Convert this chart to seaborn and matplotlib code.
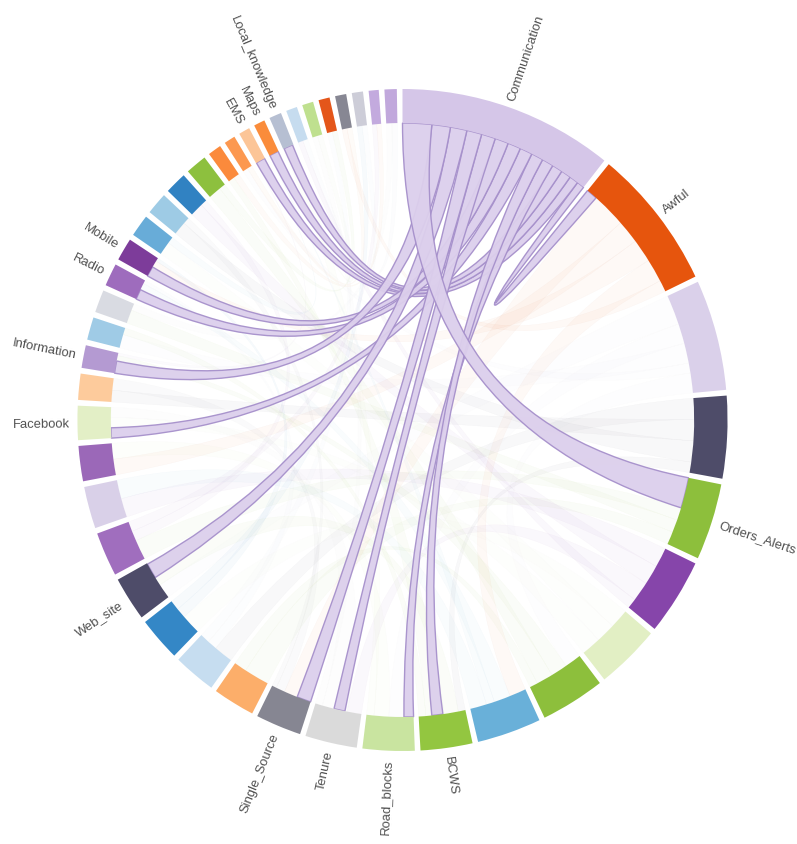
import numpy as np
import matplotlib
matplotlib.use("Agg")
import matplotlib.pyplot as plt
from matplotlib.path import Path
from matplotlib.patches import PathPatch, Wedge
import seaborn as sns

# ---------------------------------------------------------------
# Groups, clockwise from 12 o'clock
# ---------------------------------------------------------------
group_ids = ["Communication", "Awful", "c03", "c04", "Orders_Alerts", "c06", "c07",
             "c08", "c09", "BCWS", "Road_blocks", "Tenure", "Single_Source", "c14",
             "c15", "c16", "Web_site", "c18", "c19", "c20", "Facebook", "c22",
             "Information", "c24", "c25", "Radio", "Mobile", "c28", "c29", "c30",
             "c31", "c32", "c33", "EMS", "Maps", "Local_knowledge", "c37", "c38",
             "c39", "c40", "c41", "c42", "c43"]

group_totals = [38.5, 25.0, 19.5, 14.5, 13.5, 13.5, 11.5, 11.5, 11.5, 9.3, 9.3, 9.3,
                8.2, 7.5, 7.6, 7.8, 7.8, 7.8, 7.4, 6.2, 6.0, 4.6, 4.0, 4.0, 4.0, 4.0,
                4.0, 3.9, 3.9, 3.9, 3.8, 2.4, 2.0, 2.0, 2.0, 2.2, 2.0, 2.0, 2.0, 2.0,
                2.0, 1.8, 2.2]

group_colors = ["#d5c6e8", "#e6550d", "#dad0ea", "#4e4c69", "#8dbf3c", "#8645aa",
                "#e2efc4", "#8dbf3c", "#69b0d9", "#93c640", "#c9e4a0", "#dadada",
                "#868692", "#fcae6a", "#c6ddf0", "#3487c6", "#4e4c69", "#a06ebe",
                "#d9d0e8", "#9b68b8", "#e3efc6", "#fdcb9c", "#b49ad2", "#9fcbe6",
                "#d9dbe2", "#9e6cbd", "#7d3c9a", "#68acd8", "#9ecbe5", "#3182c2",
                "#8dc03e", "#fb8a3c", "#fc9850", "#fcc597", "#fa8c3b", "#b6bfd2",
                "#c6dcef", "#bfe08f", "#e4561a", "#878793", "#cdcdd8", "#c3aade",
                "#c1a8dc"]

# ---------------------------------------------------------------
# Flows of the highlighted group (Communication)
# ---------------------------------------------------------------
focus = "Communication"
comm_targets = ["Orders_Alerts", "Information", "Web_site", "Single_Source", "Tenure",
                "Mobile", "Radio", "Facebook", "BCWS", "Road_blocks",
                "Local_knowledge", "Maps", "EMS", "Awful"]
comm_out = [5.8, 3.7, 3.3, 3.0, 2.8, 2.7, 2.6, 2.5, 2.4, 2.3, 2.1, 2.0, 1.8, 1.5]
comm_in = [6.0, 2.4, 3.0, 2.8, 2.2, 2.0, 2.0, 2.0, 2.2, 1.9, 1.8, 1.8, 1.8, 2.2]
# larger flows of the partner group that are laid out before its Communication ribbon
partner_flow_before = [0.0, 0.0, 4.6, 0.0, 3.3, 0.0, 0.0, 0.0, 4.5, 0.0, 0.2, 0.1, 0.1, 0.0]

# ---------------------------------------------------------------
# Remaining flows between the other groups (drawn faded)
# ---------------------------------------------------------------
other_links = [
    ("Awful", "Single_Source", 3), ("Awful", "c20", 2), ("Awful", "Mobile", 2),
    ("Awful", "c09", 2), ("Awful", "c40", 1),
    ("c03", "Web_site", 3), ("c03", "Road_blocks", 2), ("c03", "c24", 2),
    ("c03", "c33", 1), ("c03", "c08", 2),
    ("c04", "c15", 2), ("c04", "c22", 2), ("c04", "c29", 2), ("c04", "BCWS", 1),
    ("Orders_Alerts", "c18", 2), ("Orders_Alerts", "c25", 2), ("Orders_Alerts", "c14", 2),
    ("c06", "c19", 2), ("c06", "c30", 2), ("c06", "Tenure", 2), ("c06", "c37", 1),
    ("c07", "c16", 2), ("c07", "c28", 2), ("c07", "Facebook", 2),
    ("c08", "Information", 2), ("c08", "c31", 2), ("c08", "c14", 1),
    ("c09", "Radio", 2), ("c09", "Maps", 1), ("c09", "c19", 2),
    ("BCWS", "Web_site", 2), ("BCWS", "c32", 1), ("BCWS", "c24", 1),
    ("Road_blocks", "c20", 2), ("Road_blocks", "Local_knowledge", 1),
    ("Tenure", "Facebook", 2), ("Tenure", "c38", 1),
    ("Single_Source", "c22", 2), ("Single_Source", "c29", 1),
    ("c15", "Radio", 1), ("c15", "c39", 1), ("c16", "Mobile", 1), ("c16", "c41", 1),
    ("c18", "c30", 1), ("c18", "c42", 1), ("Information", "EMS", 1),
    ("c25", "c43", 1), ("c28", "EMS", 1), ("c31", "c39", 1), ("c32", "c42", 1),
    ("c33", "c40", 1), ("Local_knowledge", "c43", 1), ("c37", "c41", 1),
    ("c38", "Maps", 1),
]

# ---------------------------------------------------------------
# Chord layout
# ---------------------------------------------------------------
sns.set_theme(style="white")
plt.rcParams["font.family"] = ["Liberation Sans", "DejaVu Sans"]
palette = sns.color_palette(group_colors)

n = len(group_ids)
idx = {g: i for i, g in enumerate(group_ids)}
pad = np.radians(1.0)
k = (2 * np.pi - n * pad) / sum(group_totals)

starts, ends = [], []
a = 0.0
for t in group_totals:
    starts.append(a)
    a += t * k
    ends.append(a)
    a += pad

R_OUT, R_IN = 331.0, 297.0
SX = 0.982  # horizontal stretch of the drawing

fig = plt.figure(figsize=(7.97, 8.45), dpi=100)
ax = fig.add_axes([0, 0, 1, 1])
ax.set_xlim(-402.5 / SX, (797 - 402.5) / SX)
ax.set_ylim(-424, 421)
ax.axis("off")


def pt(ang, r):
    return (r * np.sin(ang), r * np.cos(ang))


def ribbon(s0, s1, t0, t1, r=R_IN):
    verts, codes = [], []
    arc = np.linspace(s0, s1, max(3, int(abs(s1 - s0) / 0.005) + 2))
    verts += [pt(x, r) for x in arc]
    codes += [Path.MOVETO] + [Path.LINETO] * (len(arc) - 1)
    verts += [(0, 0), pt(t0, r)]
    codes += [Path.CURVE3, Path.CURVE3]
    arc = np.linspace(t0, t1, max(3, int(abs(t1 - t0) / 0.005) + 2))
    verts += [pt(x, r) for x in arc[1:]]
    codes += [Path.LINETO] * (len(arc) - 1)
    verts += [(0, 0), pt(s0, r), pt(s0, r)]
    codes += [Path.CURVE3, Path.CURVE3, Path.CLOSEPOLY]
    return Path(verts, codes)


# Communication ribbon placement inside each partner group
focus_slot = {}
order = np.argsort(comm_out)[::-1]
cur = starts[idx[focus]]
comm_src = {}
for j in order:
    tgt = comm_targets[j]
    comm_src[tgt] = (cur, cur + comm_out[j] * k)
    cur += comm_out[j] * k
    g = idx[tgt]
    focus_slot[g] = (partner_flow_before[j], comm_in[j])


def free_to_angle(g, pos):
    if g in focus_slot:
        lead, width = focus_slot[g]
        if pos > lead:
            pos = pos + width
    return starts[g] + pos * k


# faded ribbons between the remaining groups
weights = {g: 0.0 for g in range(n)}
for a_id, b_id, w in other_links:
    weights[idx[a_id]] += w
    weights[idx[b_id]] += w
free_len = {g: group_totals[g] - (focus_slot[g][1] if g in focus_slot else 0.0)
            for g in range(n)}
cursor = {g: 0.0 for g in range(n)}


def take(g, w):
    share = w / weights[g] * free_len[g]
    p0 = cursor[g]
    cursor[g] += share
    return free_to_angle(g, p0 + 1e-6), free_to_angle(g, p0 + share)


for a_id, b_id, w in other_links:
    ga, gb = idx[a_id], idx[b_id]
    s0, s1 = take(ga, w)
    t0, t1 = take(gb, w)
    ax.add_patch(PathPatch(ribbon(s0, s1, t0, t1), facecolor=palette[ga],
                           edgecolor=palette[ga], lw=0.3, alpha=0.035, zorder=1))

# highlighted Communication ribbons
for j in order[::-1]:
    tgt = comm_targets[j]
    g = idx[tgt]
    s0, s1 = comm_src[tgt]
    lead, width = focus_slot[g]
    t0 = starts[g] + lead * k
    t1 = t0 + width * k
    ax.add_patch(PathPatch(ribbon(s0, s1, t0, t1), facecolor="#dccfec",
                           edgecolor="#a690cb", lw=1.0, alpha=0.95, zorder=3))

# group arcs
for g in range(n):
    ax.add_patch(Wedge((0, 0), R_OUT, 90 - np.degrees(ends[g]), 90 - np.degrees(starts[g]),
                       width=R_OUT - R_IN, facecolor=palette[g], edgecolor="none", zorder=4))

# labels for Communication and its partners
labelled = [focus] + comm_targets
for name in labelled:
    g = idx[name]
    mid = (starts[g] + ends[g]) / 2
    x, y = pt(mid, R_OUT + 8)
    rot = np.degrees(np.arctan2(np.cos(mid), np.sin(mid) * SX))
    if np.degrees(mid) < 180:
        ax.text(x, y, name, rotation=rot, rotation_mode="anchor", ha="left",
                va="center", fontsize=9.4, color="#505050", zorder=5)
    else:
        ax.text(x, y, name, rotation=rot + 180, rotation_mode="anchor", ha="right",
                va="center", fontsize=9.4, color="#505050", zorder=5)

fig.savefig("out.png", dpi=100, facecolor="white")
